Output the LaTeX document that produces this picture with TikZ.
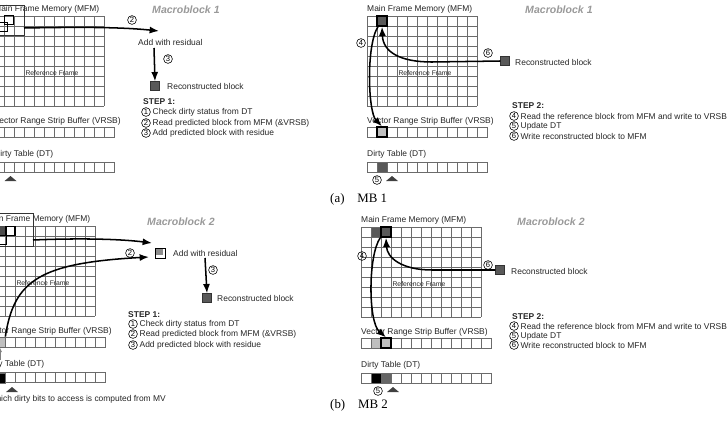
\documentclass[tikz,border=0pt]{standalone}
\usepackage{fontspec}
\setmainfont{Liberation Sans}
\newfontfamily\capfont{Liberation Serif}
\usetikzlibrary{arrows.meta, positioning, calc}
\tikzset{gridln/.style={draw=black!58, line width=0.55pt}}
\tikzset{txt/.style={font=\fontsize{7.2}{8}\selectfont, inner sep=0pt, text=black!85}}
\tikzset{reftxt/.style={font=\fontsize{5.8}{7}\selectfont, inner sep=0pt, text=black!85}}
\tikzset{mbtxt/.style={font=\fontsize{9}{10}\selectfont\bfseries\itshape, text=black!40, inner sep=0pt}}
\tikzset{captxt/.style={font=\capfont\fontsize{11}{12}\selectfont, inner sep=0pt}}
\tikzset{numc/.style={circle, draw=black, line width=0.5pt, inner sep=0pt, minimum size=7.5pt, font=\fontsize{6.5}{7}\selectfont}}
\tikzset{recblk/.style={rectangle, draw=black!80, fill=black!65, minimum size=7.5pt, inner sep=0pt}}
\tikzset{hotcell/.style={rectangle, draw=black, line width=1.2pt, minimum size=8.5pt, inner sep=0pt}}
\tikzset{arr/.style={-{Latex[length=8pt,width=6pt]}, line width=1.3pt}}
\tikzset{marker/.style={fill=black!75}}

% common part of one panel: grid, VRSB row, DT row and their labels
% #1,#2 corner of the grid, #3 name prefix, #4 grid columns, #5 cells in a row
\newcommand{\mempanel}[5]{%
\begin{scope}[shift={(#1,#2)}]
\foreach \i in {0,...,#4} \draw[gridln] (\i*10,0) -- (\i*10,90);
\foreach \j in {0,...,9} \draw[gridln] (0,\j*10) -- (#4*10,\j*10);
\foreach \i in {1,...,#5} {
	\draw[gridln] (\i*10-10,111) rectangle ++(10,10);
	\draw[gridln] (\i*10-10,146) rectangle ++(10,10);}
\node [txt, anchor=west] at (0,-7) (#3mfm) {Main Frame Memory (MFM)};
\node [reftxt] at (58,57) (#3ref) {Reference Frame};
\node [txt, anchor=west] at (0,105) (#3vrsb) {Vector Range Strip Buffer (VRSB)};
\node [txt, anchor=west] at (0,138) (#3dt) {Dirty Table (DT)};
\end{scope}}

\begin{document}
\begin{tikzpicture}[x=0.3mm, y=-0.3mm]
\useasboundingbox (0,0) rectangle (727,438);
\clip (0,0) rectangle (727,438);

%%% (a) step 1
\mempanel{-6}{16}{al}{11}{12}
\node [mbtxt, anchor=west] at (152,10) (almb) {Macroblock 1};
\draw [black!80, line width=0.5pt] (-16,5) rectangle (24,35);
\node [hotcell, minimum size=8pt] at (9,20) (alblk) {};
\node [hotcell, minimum size=8pt] at (3,27) (almv) {};
\coordinate (al2end) at (159,31);
\draw [arr] (24,28) .. controls (80,27) and (120,27) .. (al2end);
\node [numc] at (132,20) (aln2) {2};
\node [txt, anchor=west] at (138,42) (aladd) {Add with residual};
\node [recblk] at (155,86) (alrec) {};
\node [txt, anchor=west] at (167,86) (alrect) {Reconstructed block};
\draw [arr] (154,48) -- (alrec.north);
\node [numc] at (168,59) (aln3) {3};
\node [txt, anchor=west, font=\fontsize{7.2}{8}\selectfont\bfseries] at (143,102) (alstep) {STEP 1:};
\node [numc] at (146,112) (als1) {1};
\node [txt, right=1.5pt of als1] (als1t) {Check dirty status from DT};
\node [numc] at (146,123) (als2) {2};
\node [txt, right=1.5pt of als2] (als2t) {Read predicted block from MFM (\&VRSB)};
\node [numc] at (146,133) (als3) {3};
\node [txt, right=1.5pt of als3] (als3t) {Add predicted block with residue};
\fill [marker] (10.5,176) -- (16.5,181) -- (4.5,181) -- cycle;

%%% (a) step 2
\mempanel{367}{16}{ar}{11}{12}
\node [mbtxt, anchor=west] at (525,10) (armb) {Macroblock 1};
\node [hotcell, fill=black!65] at (382,21) (arblk) {};
\node [hotcell, fill=black!25] at (382,132) (arvr) {};
\fill [black!65] (377,162) rectangle (387,172);
\draw [gridln] (377,162) rectangle (387,172);
\node [recblk] at (505,61) (arrec) {};
\node [txt, anchor=west] at (515,62) (arrect) {Reconstructed block};
\draw [arr] (arblk.235) .. controls (366,45) and (368,112) .. (arvr.north);
\node [numc] at (361,43) (arn4) {4};
\draw [arr] (arrec.west) -- (432,62) .. controls (400,62) and (383,52) .. (arblk.south);
\node [numc] at (488,53) (arn6) {6};
\node [numc] at (377,180) (arn5) {5};
\fill [marker] (392,176) -- (398,181) -- (386,181) -- cycle;
\node [txt, anchor=west, font=\fontsize{7.2}{8}\selectfont\bfseries] at (512,106) (arstep) {STEP 2:};
\node [numc] at (514,116) (ars4) {4};
\node [txt, right=1.5pt of ars4] (ars4t) {Read the reference block from MFM and write to VRSB};
\node [numc] at (514,126) (ars5) {5};
\node [txt, right=1.5pt of ars5] (ars5t) {Update DT};
\node [numc] at (514,136) (ars6) {6};
\node [txt, right=1.5pt of ars6] (ars6t) {Write reconstructed block to MFM};

\node [captxt, anchor=west] at (330,199) (capa) {(a)\quad MB 1};

%%% (b) step 1
\mempanel{-15}{226}{bl}{11}{12}
\node [mbtxt, anchor=west] at (147,222) (blmb) {Macroblock 2};
\fill [black!70] (-5,226) rectangle (5,236);
\draw [black!80, line width=0.5pt] (-27,213) rectangle (33,246);
\node [hotcell, minimum size=8pt] at (10.5,231) (blblk) {};
\node [hotcell, minimum size=8pt] at (2,240) (blmv) {};
\node [hotcell, fill=black!25, draw=black!60, line width=0.6pt] at (0,342) (blvr) {};
\fill [black] (-5,373) rectangle (5,383);
\fill [black!60] (-15,373) rectangle (-5,383);
\draw [gridln] (-15,373) rectangle (5,383);
\node [txt, anchor=west] at (173,253) (bladd) {Add with residual};
\draw [black, line width=0.6pt, fill=white] (155,248) rectangle (165,258);
\fill [black!45] (156,249) rectangle (163,255);
\coordinate (bl2a) at (152,243);
\coordinate (bl2b) at (149,257);
\draw [arr] (33,240) .. controls (80,238) and (120,239) .. (bl2a);
\draw [arr] (blvr.north east) .. controls (14,280) and (40,263) .. (bl2b);
\node [numc] at (130,253) (bln2) {2};
\draw [-{Latex[length=4pt,width=3.5pt]}, black!50, line width=0.8pt] (0,360) -- (blvr.south);
\node [recblk] at (207,298) (blrec) {};
\node [txt, anchor=west] at (217,298) (blrect) {Reconstructed block};
\draw [arr] (205,258) -- (blrec.north);
\node [numc] at (213,270) (bln3) {3};
\node [txt, anchor=west, font=\fontsize{7.2}{8}\selectfont\bfseries] at (128,315) (blstep) {STEP 1:};
\node [numc] at (133,324) (bls1) {1};
\node [txt, right=1.5pt of bls1] (bls1t) {Check dirty status from DT};
\node [numc] at (133,334) (bls2) {2};
\node [txt, right=1.5pt of bls2] (bls2t) {Read predicted block from MFM (\&VRSB)};
\node [numc] at (133,345) (bls3) {3};
\node [txt, right=1.5pt of bls3] (bls3t) {Add predicted block with residue};
\fill [marker] (12,387) -- (18,392) -- (6,392) -- cycle;
\node [txt, anchor=east] at (166,399) (blnote) {Which dirty bits to access is computed from MV};

%%% (b) step 2
\mempanel{361}{227}{br}{12}{13}
\node [mbtxt, anchor=west] at (517,222) (brmb) {Macroblock 2};
\fill [black!65] (371,227) rectangle (381,237);
\draw [gridln] (371,227) rectangle (381,237);
\node [hotcell, fill=black!65] at (386,232) (brblk) {};
\fill [black!25] (371,338) rectangle (381,348);
\draw [gridln] (371,338) rectangle (381,348);
\node [hotcell, fill=black!25] at (386,343) (brvr) {};
\fill [black] (371,373) rectangle (381,383);
\fill [black!60] (381,373) rectangle (391,383);
\draw [gridln] (371,373) rectangle (391,383);
\node [recblk] at (500,270) (brrec) {};
\node [txt, anchor=west] at (511,271) (brrect) {Reconstructed block};
\draw [arr] (brblk.225) .. controls (368,255) and (368,322) .. (brvr.north);
\node [numc] at (362,256) (brn4) {4};
\draw [arr] (brrec.west) -- (432,270) .. controls (402,270) and (387,258) .. (brblk.south);
\node [numc] at (488,265) (brn6) {6};
\node [numc] at (378,391) (brn5) {5};
\fill [marker] (393,387) -- (399,392) -- (387,392) -- cycle;
\node [txt, anchor=west, font=\fontsize{7.2}{8}\selectfont\bfseries] at (512,317) (brstep) {STEP 2:};
\node [numc] at (514,326) (brs4) {4};
\node [txt, right=1.5pt of brs4] (brs4t) {Read the reference block from MFM and write to VRSB};
\node [numc] at (514,336) (brs5) {5};
\node [txt, right=1.5pt of brs5] (brs5t) {Update DT};
\node [numc] at (514,345) (brs6) {6};
\node [txt, right=1.5pt of brs6] (brs6t) {Write reconstructed block to MFM};

\node [captxt, anchor=west] at (330,405) (capb) {(b)\quad MB 2};
\end{tikzpicture}
\end{document}
